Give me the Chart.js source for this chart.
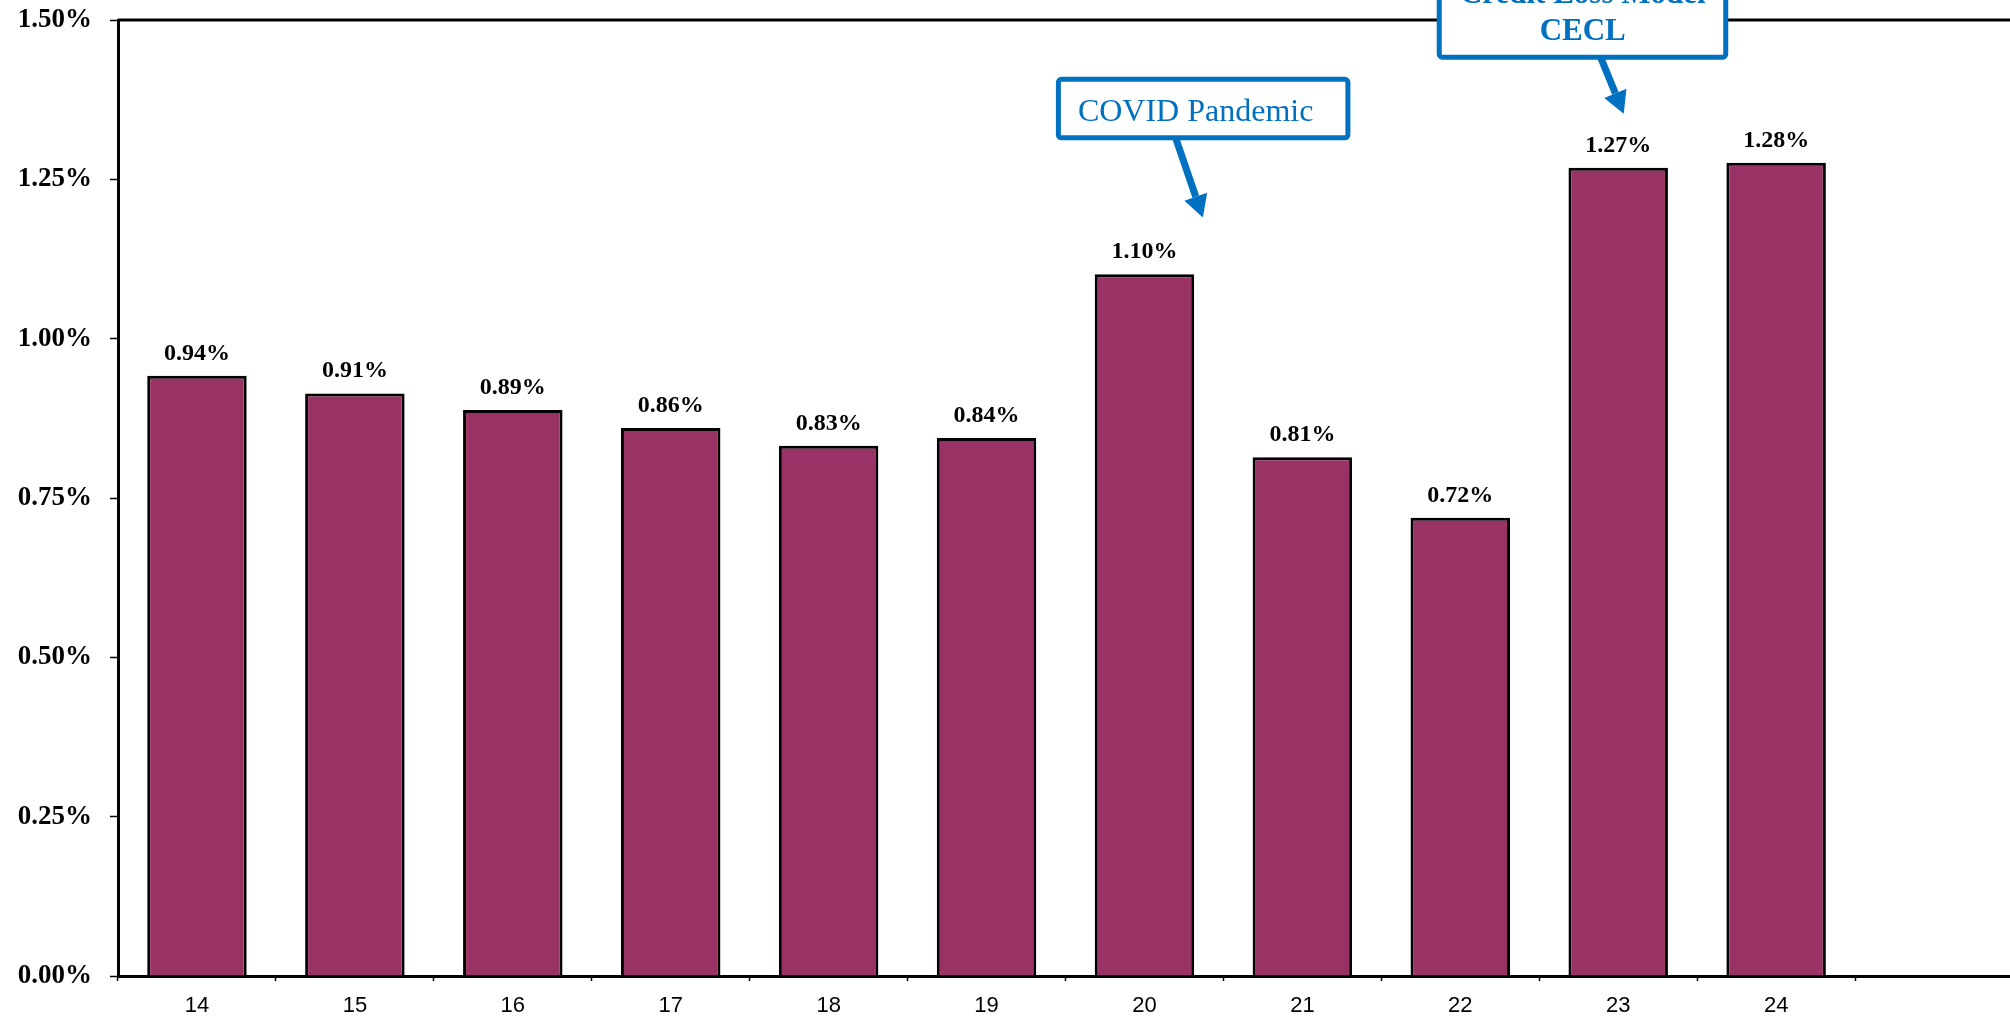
<!DOCTYPE html>
<html>
<head>
<meta charset="utf-8">
<script src="https://cdn.jsdelivr.net/npm/chart.js@4/dist/chart.umd.min.js"></script>
<style>
  html, body { margin: 0; padding: 0; background: #fff; overflow: hidden; }
  #wrap { width: 2016px; height: 1020px; }
</style>
</head>
<body>
<div id="wrap"><canvas id="barChart" width="2016" height="1020"></canvas></div>
<script>
// year labels (last slot is empty in the original)
const years = ['14', '15', '16', '17', '18', '19', '20', '21', '22', '23', '24', ''];
// reserve ratio, percent
const ratios = [0.942, 0.914, 0.888, 0.860, 0.832, 0.844, 1.101, 0.814, 0.719, 1.268, 1.276];
const yTicks = [0, 0.25, 0.5, 0.75, 1.0, 1.25, 1.5];

const barColor = '#993366';
const blue = '#0070C0';
const serif = '"Liberation Serif", "Times New Roman", serif';
const sans = '"Liberation Sans", Arial, sans-serif';

// value labels above the bars
const valueLabels = {
    id: 'valueLabels',
    afterDatasetsDraw(chart) {
        const ctx = chart.ctx;
        const meta = chart.getDatasetMeta(0);
        ctx.save();
        ctx.font = 'bold 24px ' + serif;
        ctx.fillStyle = '#000';
        ctx.textAlign = 'center';
        ctx.textBaseline = 'alphabetic';
        meta.data.forEach((bar, i) => {
            ctx.fillText(ratios[i].toFixed(2) + '%', bar.x, bar.y - 16);
        });
        ctx.restore();
    }
};

function arrow(ctx, x1, y1, x2, y2) {
    const ang = Math.atan2(y2 - y1, x2 - x1);
    const hl = 22, hw = 12;
    const bx = x2 - hl * Math.cos(ang), by = y2 - hl * Math.sin(ang);
    ctx.beginPath();
    ctx.moveTo(x1, y1);
    ctx.lineTo(bx, by);
    ctx.stroke();
    ctx.beginPath();
    ctx.moveTo(x2, y2);
    ctx.lineTo(bx + hw * Math.sin(ang), by - hw * Math.cos(ang));
    ctx.lineTo(bx - hw * Math.sin(ang), by + hw * Math.cos(ang));
    ctx.closePath();
    ctx.fill();
}

function box(ctx, x, y, w, h) {
    ctx.beginPath();
    ctx.roundRect(x, y, w, h, 3);
    ctx.fillStyle = '#fff';
    ctx.fill();
    ctx.stroke();
}

// plot frame top line + callouts
const callouts = {
    id: 'callouts',
    afterDraw(chart) {
        const {ctx, chartArea, scales} = chart;
        const xs = scales.x, ys = scales.y;
        const cw = xs.getPixelForValue(1) - xs.getPixelForValue(0);

        ctx.save();
        ctx.strokeStyle = '#000';
        ctx.lineWidth = 3;
        ctx.beginPath();
        ctx.moveTo(chartArea.left, chartArea.top);
        ctx.lineTo(chartArea.right + 5, chartArea.top);
        ctx.stroke();

        ctx.strokeStyle = blue;
        ctx.fillStyle = blue;
        ctx.lineJoin = 'round';

        // COVID
        let tx = xs.getPixelForValue(6) + 0.37 * cw;
        let ty = ys.getPixelForValue(1.19);
        ctx.lineWidth = 7;
        arrow(ctx, tx - 27, ty - 79, tx, ty);
        ctx.lineWidth = 5;
        box(ctx, tx - 144.5, ty - 138.2, 289.5, 58.4);
        ctx.fillStyle = blue;
        ctx.font = '32px ' + serif;
        ctx.textAlign = 'left';
        ctx.textBaseline = 'alphabetic';
        ctx.fillText('COVID Pandemic', tx - 125, ty - 97);

        // CECL
        tx = xs.getPixelForValue(9) + 0.035 * cw;
        ty = ys.getPixelForValue(1.353);
        ctx.lineWidth = 7;
        arrow(ctx, tx - 23, ty - 56, tx, ty);
        ctx.lineWidth = 5;
        box(ctx, tx - 184.5, ty - 220, 286.5, 163.5);
        ctx.fillStyle = blue;
        ctx.font = 'bold 31px ' + serif;
        ctx.textAlign = 'center';
        const cx = tx - 41;
        ctx.fillText('Current Expected', cx, ty - 148);
        ctx.fillText('Credit Loss Model', cx, ty - 111);
        ctx.fillText('CECL', cx, ty - 74);
        ctx.restore();
    }
};

const config_bar = {
    type: 'bar',
    data: {
        labels: years,
        datasets: [{
            data: ratios,
            backgroundColor: barColor,
            borderColor: '#000',
            borderWidth: 3,
            categoryPercentage: 1,
            barPercentage: 0.63,
        }]
    },
    options: {
        responsive: false,
        animation: false,
        events: [],
        layout: { padding: { top: 20, right: 3, left: 0, bottom: 0 } },
        plugins: {
            legend: { display: false },
            tooltip: { enabled: false },
        },
        scales: {
            x: {
                grid: {
                    offset: true,
                    drawOnChartArea: false,
                    drawTicks: true,
                    tickLength: 5,
                    tickColor: '#000',
                    tickWidth: 1.5,
                },
                border: { display: true, color: '#000', width: 3 },
                ticks: {
                    color: '#000',
                    padding: 12,
                    autoSkip: false,
                    maxRotation: 0,
                    font: { family: sans, size: 22 },
                },
                afterFit(scale) { scale.height = 44; scale.paddingLeft = 0; scale.paddingRight = 0; },
            },
            y: {
                min: 0,
                max: 1.5,
                afterBuildTicks(scale) { scale.ticks = yTicks.map(v => ({value: v})); },
                grid: {
                    drawOnChartArea: false,
                    drawTicks: true,
                    tickLength: 8,
                    tickColor: '#000',
                    tickWidth: 1.5,
                },
                border: { display: true, color: '#000', width: 3 },
                ticks: {
                    color: '#000',
                    padding: 18,
                    font: { family: serif, size: 27, weight: 'bold' },
                    callback: v => v.toFixed(2) + '%',
                },
                afterFit(scale) { scale.width = 118; scale.paddingTop = 0; scale.paddingBottom = 0; },
            }
        }
    },
    plugins: [valueLabels, callouts]
};

new Chart(document.querySelector('#barChart').getContext('2d'), config_bar);
</script>
</body>
</html>
